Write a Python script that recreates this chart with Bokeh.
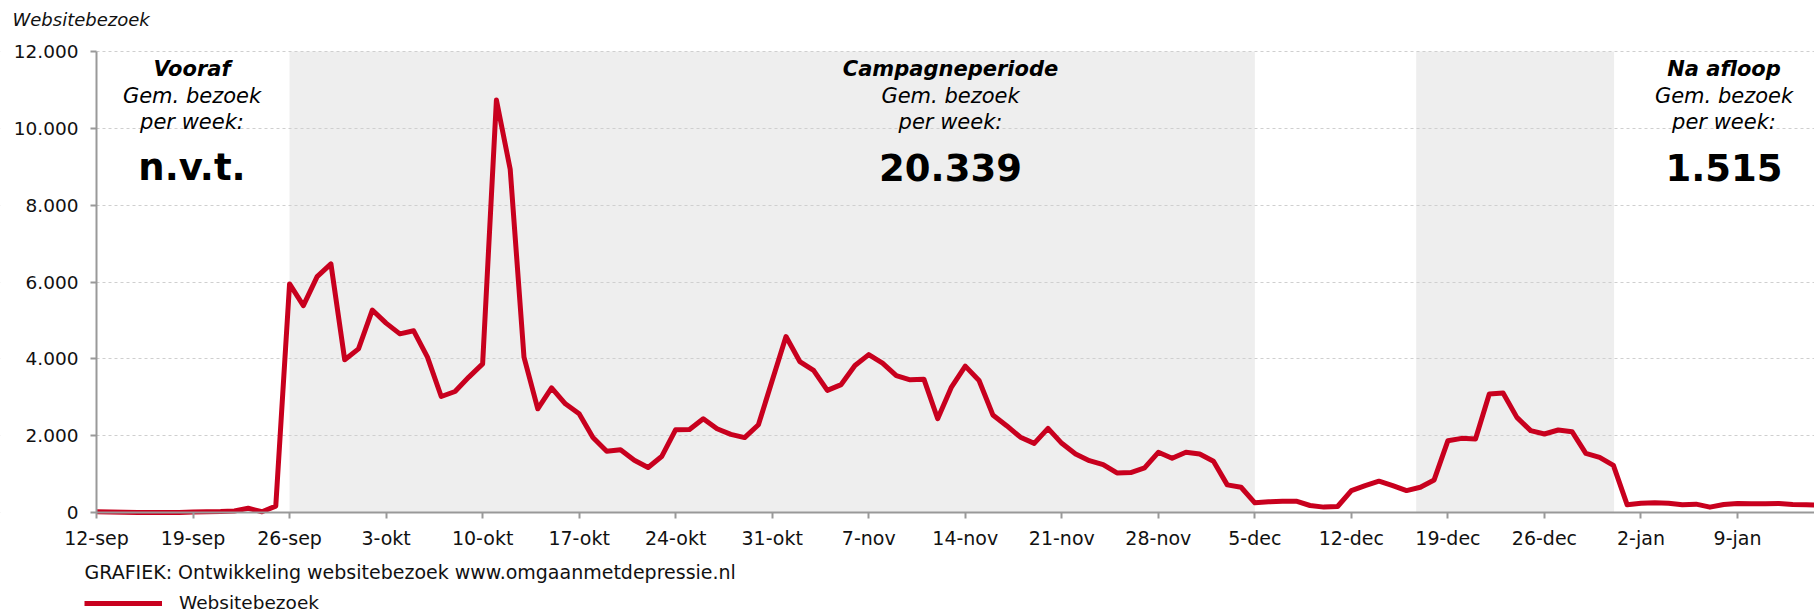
from bokeh.plotting import figure
from bokeh.models import Range1d, FixedTicker, BoxAnnotation, Label, Legend, LegendItem
from bokeh.embed import file_html
from bokeh.resources import INLINE
import numpy as np

# ---- data -------------------------------------------------------------
# daily website visits, starting 12-sep
visits = [
    20, 10, 5, 0, 0, 0, 0, 10, 20, 25, 40, 110, 20, 165,
    5950, 5385, 6140, 6470, 3975, 4260, 5270, 4930, 4650, 4730, 4045, 3020, 3150, 3525,
    3870, 10736, 8935, 4045, 2700, 3245, 2830, 2570, 1950, 1595, 1635, 1360, 1170, 1465,
    2155, 2160, 2440, 2180, 2035, 1950, 2285, 3437, 4580, 3930, 3700, 3180, 3330, 3825,
    4110, 3890, 3565, 3455, 3470, 2440, 3265, 3810, 3437, 2540, 2260, 1960, 1800, 2190,
    1800, 1524, 1350, 1247, 1030, 1040, 1160, 1567, 1411, 1567, 1524, 1333, 719, 658,
    251, 277, 294, 294, 182, 140, 156, 571, 700, 814, 700, 571, 658, 848,
    1870, 1930, 1913, 3082, 3108, 2476, 2130, 2043, 2147, 2104, 1541, 1437, 1226, 200,
    243, 252, 243, 200, 217, 139, 209, 235, 226, 226, 235, 209, 200, 195,
]
tick_labels = ["12-sep", "19-sep", "26-sep", "3-okt", "10-okt", "17-okt", "24-okt",
               "31-okt", "7-nov", "14-nov", "21-nov", "28-nov", "5-dec", "12-dec",
               "19-dec", "26-dec", "2-jan", "9-jan"]
y_ticks = [0, 2000, 4000, 6000, 8000, 10000, 12000]
y_tick_labels = ["0", "2.000", "4.000", "6.000", "8.000", "10.000", "12.000"]
# shaded periods (in days since 12-sep)
shade_periods = [(14, 84), (95.7, 110.05)]
period_titles = ["Vooraf", "Campagneperiode", "Na afloop"]
period_values = ["n.v.t.", "20.339", "1.515"]

days = np.arange(len(visits))
tick_pos = [7 * i for i in range(len(tick_labels))]

FONT = "DejaVu Sans"
RED = "#C8001E"
W, H = 1814, 613
# plot-area geometry in pixels (frame covers the whole canvas)
AX_LEFT, AX_TOP, AX_BOTTOM = 96, 51, 512
PX_PER_DAY = 13.79
PX_PER_UNIT = (AX_BOTTOM - AX_TOP) / 12000.0

x0 = -AX_LEFT / PX_PER_DAY
x1 = (W - AX_LEFT) / PX_PER_DAY
y0 = -(H - AX_BOTTOM) / PX_PER_UNIT
y1 = 12000 + AX_TOP / PX_PER_UNIT


def px_x(px):
    return (px - AX_LEFT) / PX_PER_DAY


def px_y(py):
    return (AX_BOTTOM - py) / PX_PER_UNIT


p = figure(width=W, height=H, output_backend="svg", toolbar_location=None,
           x_range=Range1d(x0, x1), y_range=Range1d(y0, y1), min_border=0)
p.outline_line_color = None
p.background_fill_color = "white"
p.border_fill_color = "white"

for a, b in shade_periods:
    p.add_layout(BoxAnnotation(left=a, right=b, bottom=0, top=12000, fill_color="#EEEEEE",
                               fill_alpha=1.0, line_color=None, level="image"))

p.xgrid.visible = False
p.ygrid.ticker = FixedTicker(ticks=y_ticks)
p.ygrid.grid_line_color = "#CFCFCF"
p.ygrid.grid_line_dash = "3 3"
p.ygrid.grid_line_width = 1
# keep grid lines out of the tick-label margin
p.add_layout(BoxAnnotation(right=0, fill_color="white", fill_alpha=1.0, line_color=None,
                           level="underlay"))

p.yaxis.ticker = FixedTicker(ticks=y_ticks)
p.yaxis.major_label_overrides = {t: l for t, l in zip(y_ticks, y_tick_labels)}
p.xaxis.ticker = FixedTicker(ticks=tick_pos)
p.xaxis.major_label_overrides = {t: l for t, l in zip(tick_pos, tick_labels)}
p.yaxis.fixed_location = 0
p.xaxis.fixed_location = 0
p.yaxis.bounds = (0, 12000)
p.xaxis.bounds = (0, x1)

for ax in (p.xaxis[0], p.yaxis[0]):
    ax.axis_line_color = "#999999"
    ax.axis_line_width = 2
    ax.major_tick_line_color = "#999999"
    ax.major_tick_line_width = 2
    ax.major_tick_out = 6
    ax.major_tick_in = 0
    ax.minor_tick_line_color = None
    ax.major_label_text_font = FONT
    ax.major_label_text_color = "#111111"
p.xaxis.major_label_text_font_size = "19px"
p.yaxis.major_label_text_font_size = "18.5px"
p.xaxis.major_label_standoff = 8
p.yaxis.major_label_standoff = 12

r = p.line(days, visits, line_color=RED, line_width=5, line_join="round")

# y-axis title (top-left, italic)
p.add_layout(Label(x=px_x(12), y=px_y(19), text="Websitebezoek", text_font=FONT,
                   text_font_size="18px", text_font_style="italic", text_align="left",
                   text_baseline="middle", text_color="#111111"))

centers = [191.5, 950, 1723.5]
for cx, title, val in zip(centers, period_titles, period_values):
    xc = px_x(cx)
    p.add_layout(Label(x=xc, y=px_y(68), text=title, text_font=FONT, text_font_size="21px",
                       text_font_style="bold italic", text_align="center",
                       text_baseline="middle", text_color="black"))
    p.add_layout(Label(x=xc, y=px_y(95), text="Gem. bezoek", text_font=FONT,
                       text_font_size="21px", text_font_style="italic", text_align="center",
                       text_baseline="middle", text_color="black"))
    p.add_layout(Label(x=xc, y=px_y(121), text="per week:", text_font=FONT,
                       text_font_size="21px", text_font_style="italic", text_align="center",
                       text_baseline="middle", text_color="black"))
    p.add_layout(Label(x=xc, y=px_y(167), text=val, text_font=FONT, text_font_size="37px",
                       text_font_style="bold", text_align="center",
                       text_baseline="middle", text_color="black"))

# caption below axis
p.add_layout(Label(x=px_x(84), y=px_y(571),
                   text="GRAFIEK: Ontwikkeling websitebezoek www.omgaanmetdepressie.nl",
                   text_font=FONT, text_font_size="19px", text_align="left",
                   text_baseline="middle", text_color="#111111"))

legend = Legend(items=[LegendItem(label="Websitebezoek", renderers=[r])],
                location=(84, 0), orientation="horizontal",
                glyph_width=78, glyph_height=20, label_height=20, label_standoff=17,
                padding=0, margin=0, spacing=0, border_line_color=None,
                background_fill_alpha=0, label_text_font=FONT,
                label_text_font_size="18.5px", label_text_color="#111111")
p.add_layout(legend)

open("out.html", "w").write(file_html(p, INLINE))
